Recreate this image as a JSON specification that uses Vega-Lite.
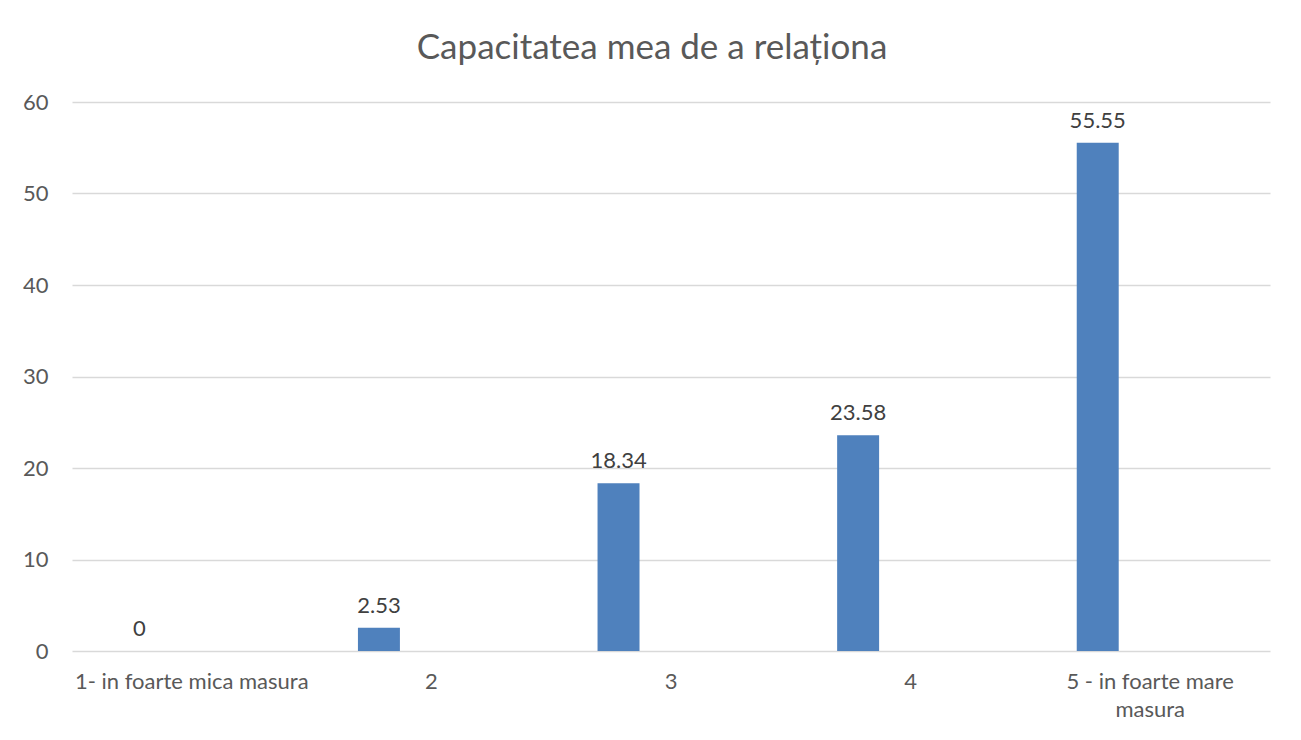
{
  "$schema": "https://vega.github.io/schema/vega-lite/v6.json",
  "width": 1198,
  "height": 549,
  "autosize": {"type": "none"},
  "padding": {"left": 72, "top": 102, "right": 31, "bottom": 89},
  "background": "white",
  "title": {
    "text": "Capacitatea mea de a relaționa",
    "font": "Lato",
    "fontSize": 35,
    "fontWeight": "normal",
    "color": "#595959",
    "anchor": "middle",
    "dx": -19,
    "offset": 25
  },
  "data": {
    "values": [
      {"category": "1- in foarte mica masura", "series": "A", "value": 0},
      {"category": "2", "series": "A", "value": 2.53},
      {"category": "3", "series": "A", "value": 18.34},
      {"category": "4", "series": "A", "value": 23.58},
      {"category": "5 - in foarte mare masura", "series": "A", "value": 55.55}
    ]
  },
  "encoding": {
    "x": {
      "field": "category",
      "type": "nominal",
      "sort": null,
      "scale": {"paddingInner": 0.343, "paddingOuter": 0.1715},
      "axis": {
        "title": null,
        "labelAngle": 0,
        "labelFont": "Lato",
        "labelFontSize": 22,
        "labelColor": "#595959",
        "labelPadding": 20,
        "labelLineHeight": 28,
        "ticks": false,
        "domain": false,
        "labelLimit": 300,
        "labelExpr": "datum.label == '5 - in foarte mare masura' ? ['5 - in foarte mare', 'masura'] : datum.label"
      }
    },
    "xOffset": {
      "field": "series",
      "type": "nominal",
      "scale": {"domain": ["A", "B", "C"], "paddingInner": 0.2, "paddingOuter": 0.1}
    },
    "y": {
      "field": "value",
      "type": "quantitative",
      "scale": {"domain": [0, 60]},
      "axis": {
        "title": null,
        "values": [0, 10, 20, 30, 40, 50, 60],
        "labelFont": "Lato",
        "labelFontSize": 22,
        "labelColor": "#595959",
        "labelPadding": 24,
        "ticks": false,
        "domain": false,
        "gridColor": "#d9d9d9",
        "gridWidth": 1.3
      }
    }
  },
  "layer": [
    {
      "mark": {"type": "bar", "color": "#4f81bd"}
    },
    {
      "mark": {
        "type": "text",
        "baseline": "bottom",
        "dy": -10,
        "font": "Lato",
        "fontSize": 22,
        "color": "#404040"
      },
      "encoding": {
        "text": {"field": "value", "type": "quantitative", "format": ".4~"}
      }
    }
  ],
  "config": {
    "view": {"stroke": null}
  }
}
